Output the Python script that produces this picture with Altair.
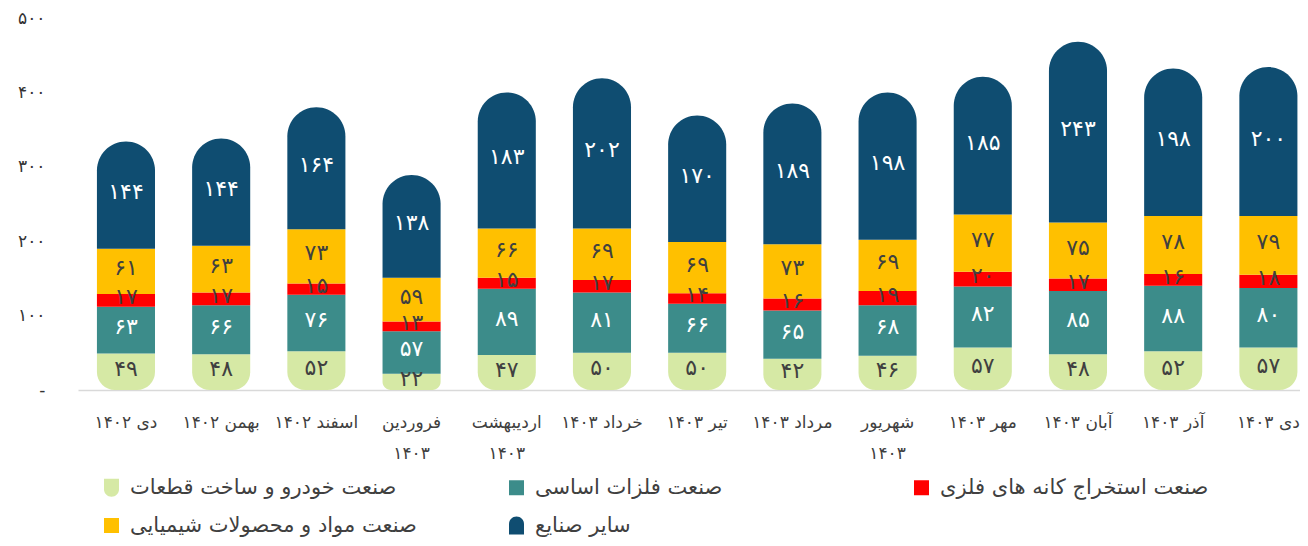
import altair as alt
import pandas as pd

FONT = "DejaVu Sans"

CATEGORIES = ['دی ۱۴۰۲', 'بهمن ۱۴۰۲', 'اسفند ۱۴۰۲', 'فروردین ۱۴۰۳', 'اردیبهشت ۱۴۰۳',
              'خرداد ۱۴۰۳', 'تیر ۱۴۰۳', 'مرداد ۱۴۰۳', 'شهریور ۱۴۰۳', 'مهر ۱۴۰۳',
              'آبان ۱۴۰۳', 'آذر ۱۴۰۳', 'دی ۱۴۰۳']
WRAPPED = ['فروردین ۱۴۰۳', 'اردیبهشت ۱۴۰۳', 'شهریور ۱۴۰۳']

SERIES = ['صنعت خودرو و ساخت قطعات', 'صنعت فلزات اساسی', 'صنعت استخراج کانه های فلزی',
          'صنعت مواد و محصولات شیمیایی', 'سایر صنایع']
COLORS = ['#D6E9A5', '#3C8C8A', '#FF0000', '#FFC000', '#0F4D71']
LABEL_COLORS = ['#404040', '#FFFFFF', '#404040', '#404040', '#FFFFFF']

AUTO_VALUES = [49, 48, 52, 22, 47, 50, 50, 42, 46, 57, 48, 52, 57]
METAL_VALUES = [63, 66, 76, 57, 89, 81, 66, 65, 68, 82, 85, 88, 80]
MINING_VALUES = [17, 17, 15, 13, 15, 17, 14, 16, 19, 20, 17, 16, 18]
CHEM_VALUES = [61, 63, 73, 59, 66, 69, 69, 73, 69, 77, 75, 78, 79]
OTHER_VALUES = [144, 144, 164, 138, 183, 202, 170, 189, 198, 185, 243, 198, 200]

Y_TICKS = [0, 100, 200, 300, 400, 500]
Y_TICK_LABELS = ['-', '۱۰۰', '۲۰۰', '۳۰۰', '۴۰۰', '۵۰۰']

FA = str.maketrans('0123456789', '۰۱۲۳۴۵۶۷۸۹')

rows = []
for order, (name, vals) in enumerate(zip(SERIES, [AUTO_VALUES, METAL_VALUES, MINING_VALUES,
                                                  CHEM_VALUES, OTHER_VALUES])):
    for cat, v in zip(CATEGORIES, vals):
        rows.append({'category': cat, 'series': name, 'value': v, 'order': order,
                     'label': str(v).translate(FA), 'textcolor': LABEL_COLORS[order]})
df = pd.DataFrame(rows)

y_label_expr = " : ".join(
    [f"datum.value == {t} ? '{l}'" for t, l in zip(Y_TICKS, Y_TICK_LABELS)]) + " : ''"
x_label_expr = ("indexof([" + ",".join(f"'{w}'" for w in WRAPPED) +
                "], datum.label) >= 0 ? split(datum.label, ' ') : datum.label")

U_PATH = 'M -1 -1.2 L 1 -1.2 L 1 0.2 A 1 1 0 0 1 -1 0.2 Z'
ARCH_PATH = 'M -1 1.2 L -1 -0.2 A 1 1 0 0 1 1 -0.2 L 1 1.2 Z'
SHAPES = [U_PATH, 'square', 'square', 'square', ARCH_PATH]


def make_legend():
    return alt.Legend(
        orient='none', legendX=23, legendY=459, columns=3, direction='horizontal',
        gridAlign='all', columnPadding=89, rowPadding=16, title=None, labelFont=FONT,
        labelFontSize=21, labelColor='#404040', symbolSize=225, symbolStrokeWidth=0,
        symbolOpacity=1, labelLimit=0, padding=0, labelOffset=8,
    )


x_enc = alt.X('category:N', sort=CATEGORIES, title=None,
              scale=alt.Scale(paddingInner=0.39, paddingOuter=0.113, align=0.88),
              axis=alt.Axis(labelAngle=0, labelFont=FONT, labelFontSize=17,
                            labelColor='#404040', labelPadding=24, labelLineHeight=31,
                            ticks=False, domainColor='#D9D9D9', domainWidth=1.5,
                            labelExpr=x_label_expr, labelLimit=0))
y_enc = alt.Y('y0:Q', title=None,
              scale=alt.Scale(domain=[0, 500], nice=False),
              axis=alt.Axis(values=Y_TICKS, labelExpr=y_label_expr, grid=False,
                            domain=False, ticks=False, labelFont=FONT,
                            labelFontSize=17, labelColor='#333333', labelPadding=33))
color_enc = alt.Color('series:N', scale=alt.Scale(domain=SERIES, range=COLORS),
                      legend=make_legend())
shape_enc = alt.Shape('series:N', scale=alt.Scale(domain=SERIES, range=SHAPES),
                      legend=make_legend())

base = alt.Chart(df).transform_stack(
    stack='value', groupby=['category'], as_=['y0', 'y1'],
    sort=[alt.SortField('order', order='ascending')]
).transform_calculate(mid='(datum.y0 + datum.y1) / 2')

# legend key points, hidden behind the bars
keys = base.mark_point(filled=True, opacity=1).encode(
    x=x_enc, y=alt.Y('mid:Q'), color=color_enc, shape=shape_enc)

bottom = base.transform_filter('datum.order == 0').mark_bar(
    cornerRadiusBottomLeft=18, cornerRadiusBottomRight=18
).encode(x=x_enc, y=y_enc, y2='y1:Q', color=color_enc)

middle = base.transform_filter('datum.order >= 1 && datum.order <= 3').mark_bar(
).encode(x=x_enc, y=y_enc, y2='y1:Q', color=color_enc)

top = base.transform_filter('datum.order == 4').mark_bar(
    cornerRadiusTopLeft=29, cornerRadiusTopRight=29
).encode(x=x_enc, y=y_enc, y2='y1:Q', color=color_enc)

text = base.mark_text(font=FONT, fontSize=22, baseline='middle', dy=-3).encode(
    x=alt.X('category:N', sort=CATEGORIES),
    y=alt.Y('mid:Q'),
    text='label:N',
    color=alt.Color('textcolor:N', scale=None),
)

chart = alt.layer(keys, bottom, middle, top, text).properties(
    width=1222, height=372,
    autosize=alt.AutoSizeParams(type='none'),
    padding={'left': 70, 'top': 10, 'right': 0, 'bottom': 148},
).configure(background='white').configure_view(stroke=None)

chart.save("out.html", embed_options={"renderer": "svg", "actions": False})
